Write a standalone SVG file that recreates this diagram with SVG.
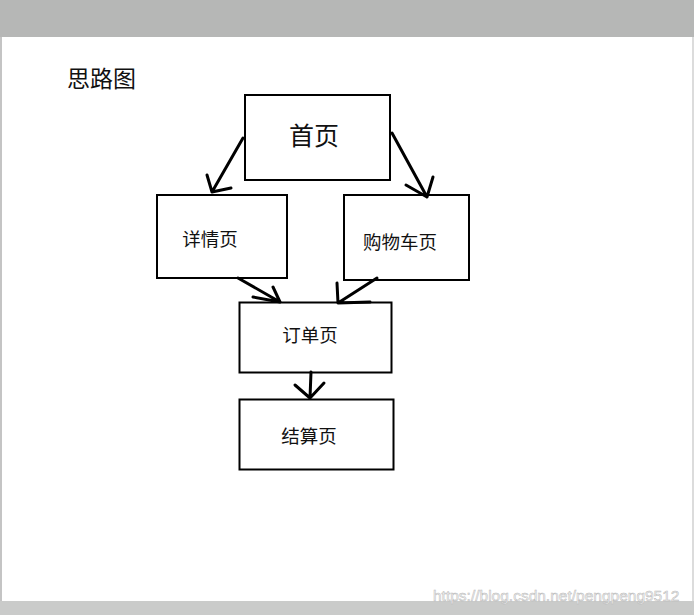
<svg xmlns="http://www.w3.org/2000/svg" width="694" height="615" viewBox="0 0 694 615">
<style>
.t{font-family:"Noto Sans CJK SC","Liberation Sans",sans-serif;fill:#111}
.box{fill:#fff;stroke:#000;stroke-width:2}
.ln{fill:none;stroke:#000;stroke-width:3;stroke-linecap:round;stroke-linejoin:round}
</style>
<rect x="0" y="0" width="694" height="615" fill="#fff"/>
<rect x="0" y="0" width="694" height="37" fill="#b6b7b6"/>
<rect x="0" y="37" width="2" height="578" fill="#c4c4c4"/>
<rect x="692" y="37" width="2" height="578" fill="#dcdcdc"/>
<rect x="0" y="601" width="694" height="14" fill="#cacbca"/>
<text class="t" x="67" y="87" font-size="23">思路图</text>
<g id="n-home"><rect class="box" x="245" y="95" width="145" height="85"/><text class="t" x="314" y="145" font-size="25" text-anchor="middle">首页</text></g>
<g id="n-detail"><rect class="box" x="157" y="195" width="130" height="83" stroke="#333"/><text class="t" x="210" y="246" font-size="18.5" text-anchor="middle">详情页</text></g>
<g id="n-cart"><rect class="box" x="344" y="195" width="125" height="85"/><text class="t" x="400" y="249" font-size="18.5" text-anchor="middle">购物车页</text></g>
<g id="n-order"><rect class="box" x="239.5" y="302.5" width="152" height="70"/><text class="t" x="310" y="342" font-size="18.5" text-anchor="middle">订单页</text></g>
<g id="n-pay"><rect class="box" x="239.5" y="399.5" width="154" height="70" stroke-width="3"/><text class="t" x="309" y="443" font-size="18.5" text-anchor="middle">结算页</text></g>
<g id="connectors">
<path class="ln" d="M243 138 L212 192 M207 175 L212 192 L231 188"/>
<path class="ln" d="M392 133 L427 197 M406 185 L427 197 L433 177"/>
<path class="ln" d="M238 278 L280 302 M253 297 L280 302 L273 287"/>
<path class="ln" d="M377 278 L338 303 M337 283 L338 303 L370 302"/>
<path class="ln" d="M311 372 L310 398 M295 385 L310 398 L324 383"/>
</g>
<text x="433" y="601" font-size="15.5" font-family="Liberation Sans,sans-serif" fill="#f4f4f4" stroke="#b8b8b8" stroke-width="0.5">https://blog.csdn.net/pengpeng9512</text>
</svg>
